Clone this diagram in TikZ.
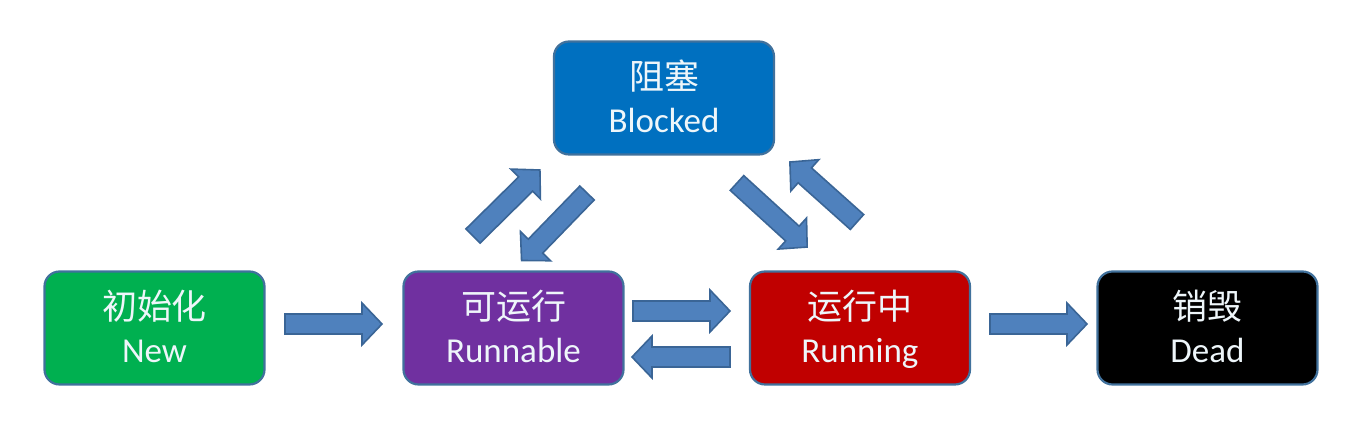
\documentclass[tikz,border=0pt]{standalone}
\usepackage{fontspec}
\setmainfont{Carlito}
\newfontfamily\cjk{Noto Sans CJK SC}
\definecolor{cgreen}{HTML}{00B050}
\definecolor{cpurple}{HTML}{7030A0}
\definecolor{cred}{HTML}{C00000}
\definecolor{cblue}{HTML}{0070C0}
\definecolor{cborder}{HTML}{41719C}
\definecolor{afill}{HTML}{4F81BD}
\definecolor{aline}{HTML}{3A6596}
\definecolor{txt}{RGB}{238,246,250}
\tikzset{
  state/.style={draw=cborder, line width=1.1pt, rounded corners=7.5pt,
    minimum width=110pt, minimum height=56.5pt, inner sep=0pt,
    align=center, text=txt, font=\fontsize{17.5}{21.5}\selectfont},
  blockarr/.style={fill=afill, draw=aline, line width=0.8pt, line join=miter}
}
\newcommand\twolines[2]{\rule{0pt}{19pt}{\cjk #1}\strut\\#2\strut}
% \barrow{start x}{start y}{angle ccw, deg}{length px}
\newcommand\barrow[4]{%
  \begin{scope}[shift={(#1,#2)}, rotate=#3]
    \draw[blockarr] (0,-10) -- ({#4-20},-10) -- ({#4-20},-21) -- (#4,0)
      -- ({#4-20},21) -- ({#4-20},10) -- (0,10) -- cycle;
  \end{scope}}
\begin{document}
\begin{tikzpicture}[x=0.5pt, y=-0.5pt]
\useasboundingbox (0,0) rectangle (1357,442);
\node[state, fill=cgreen]  (new)  at (154.5,328) {\twolines{初始化}{New}};
\node[state, fill=cpurple] (run)  at (513.5,328) {\twolines{可运行}{Runnable}};
\node[state, fill=cred]    (ing)  at (860,328)   {\twolines{运行中}{Running}};
\node[state, fill=black]   (dead) at (1207.5,328) {\twolines{销毁}{Dead}};
\node[state, fill=cblue]   (blk)  at (664,98)    {\twolines{阻塞}{Blocked}};
% horizontal block arrows (y axis points down, so the angle sign flips)
\barrow{285}{324}{0}{97}
\barrow{633}{311}{0}{97}
\barrow{730}{357}{180}{98}
\barrow{990}{324}{0}{97}
% diagonal block arrows
\barrow{473}{236}{44.6}{94}
\barrow{587}{193}{225.9}{94}
\barrow{737}{183}{-42.4}{95}
\barrow{857}{222}{138.2}{90}
\end{tikzpicture}
\end{document}
